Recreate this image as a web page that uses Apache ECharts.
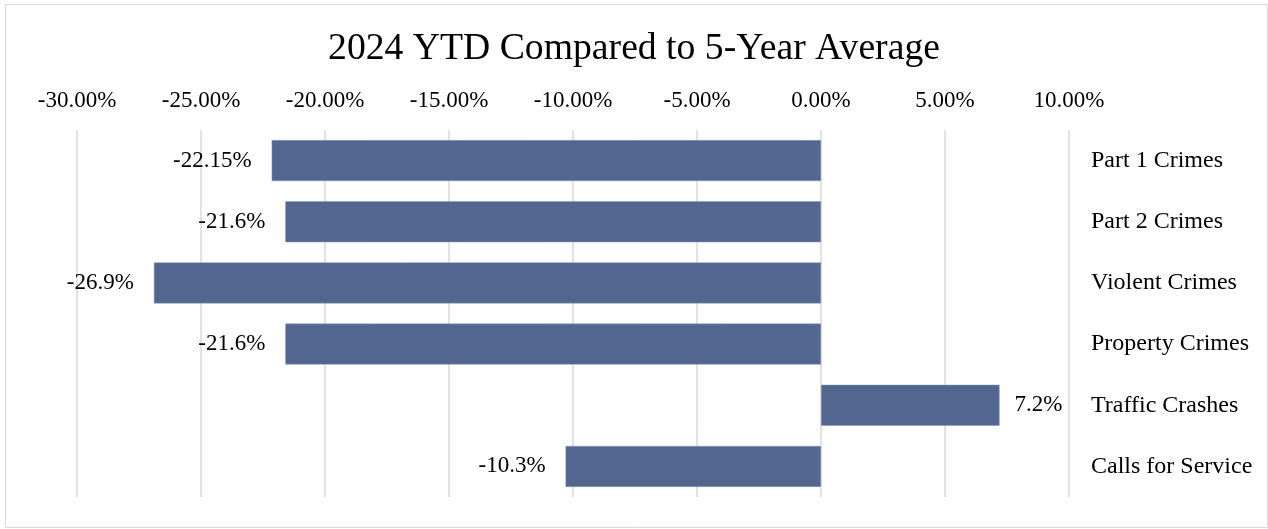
<!DOCTYPE html>
<html>
<head>
<meta charset="utf-8">
<title>2024 YTD Compared to 5-Year Average</title>
<script src="https://cdn.jsdelivr.net/npm/echarts@6/dist/echarts.min.js"></script>
<style>
    html, body { margin: 0; padding: 0; background: #fff; }
    #ytd_chart { width: 1268px; height: 529px; }
</style>
</head>
<body>
<div id="ytd_chart"></div>
<script>
// Chart data
var categories = ['Part 1 Crimes', 'Part 2 Crimes', 'Violent Crimes', 'Property Crimes', 'Traffic Crashes', 'Calls for Service'];
var changeValues = [-22.15, -21.6, -26.9, -21.6, 7.2, -10.3];
var changeLabels = ['-22.15%', '-21.6%', '-26.9%', '-21.6%', '7.2%', '-10.3%'];
var tickValues = [-30, -25, -20, -15, -10, -5, 0, 5, 10];

var serif = "'Liberation Serif', 'Times New Roman', serif";

document.addEventListener('DOMContentLoaded', function() {
    var el = document.getElementById('ytd_chart');
    var chart = echarts.init(el, null, { renderer: 'canvas' });

    // Bar items, label sits on the outer end of each bar
    var barData = changeValues.map(function(v, i) {
        return {
            value: v,
            label: {
                position: v < 0 ? 'left' : 'right',
                distance: v < 0 ? 20 : 15,
                formatter: changeLabels[i]
            }
        };
    });

    chart.setOption({
        animation: false,
        textStyle: {
            fontFamily: serif
        },

        // Outer frame
        graphic: [{
            type: 'rect',
            shape: { x: 5.5, y: 4.5, width: 1262, height: 523 },
            style: { fill: 'none', stroke: '#d9d9d9', lineWidth: 1 },
            silent: true
        }],

        title: {
            text: '2024 YTD Compared to 5-Year Average',
            left: 'center',
            top: 25,
            textStyle: {
                fontFamily: serif,
                fontSize: 37.7,
                fontWeight: 'normal',
                color: '#000'
            }
        },

        grid: {
            left: 77,
            right: 199,
            top: 130,
            bottom: 32,
            containLabel: false
        },

        xAxis: {
            type: 'value',
            position: 'top',
            min: -30,
            max: 10,
            interval: 5,
            axisLine: { show: false },
            axisTick: { show: false },
            axisLabel: {
                margin: 18,
                fontFamily: serif,
                fontSize: 23,
                color: '#000',
                formatter: function(v) {
                    return tickValues.indexOf(v) > -1 ? v.toFixed(2) + '%' : '';
                }
            },
            splitLine: {
                show: true,
                lineStyle: { color: '#d9d9d9', width: 1.5 }
            }
        },

        yAxis: {
            type: 'category',
            data: categories,
            inverse: true,
            position: 'right',
            axisLine: { show: false },
            axisTick: { show: false },
            axisLabel: {
                margin: 22,
                align: 'left',
                fontFamily: serif,
                fontSize: 24,
                color: '#000'
            },
            splitLine: { show: false }
        },

        series: [{
            type: 'bar',
            data: barData,
            barWidth: '67%',
            itemStyle: {
                color: '#526690',
                borderColor: '#8a9bbb',
                borderWidth: 0.5
            },
            label: {
                show: true,
                fontFamily: serif,
                fontSize: 23,
                color: '#000'
            }
        }]
    });
});
</script>
</body>
</html>
